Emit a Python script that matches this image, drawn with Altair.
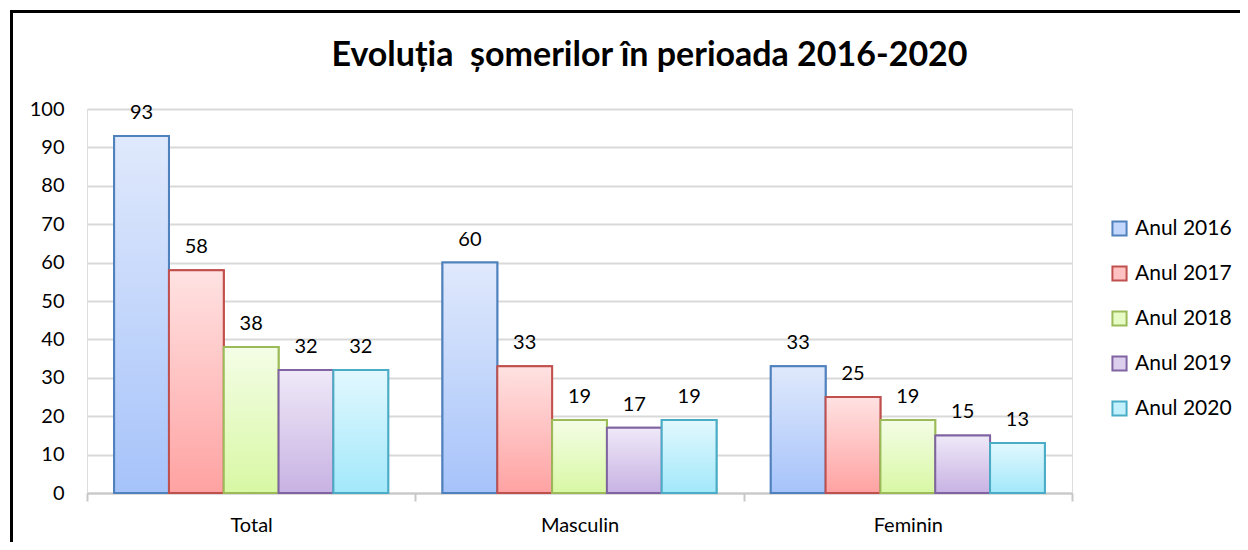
import altair as alt
import pandas as pd

groups = ["Total", "Masculin", "Feminin"]
years = ["Anul 2016", "Anul 2017", "Anul 2018", "Anul 2019", "Anul 2020"]
v2016 = [93, 60, 33]
v2017 = [58, 33, 25]
v2018 = [38, 19, 19]
v2019 = [32, 17, 15]
v2020 = [32, 19, 13]

series = [v2016, v2017, v2018, v2019, v2020]
rows = []
for yr, vals in zip(years, series):
    for g, v in zip(groups, vals):
        rows.append({"group": g, "year": yr, "value": v})
df = pd.DataFrame(rows)

stroke_colors = ["#4F81BD", "#C0504D", "#9BBB59", "#8064A2", "#4BACC6"]
mid_colors = ["#C3D6FB", "#FFC2C2", "#E6FBC5", "#DCCFEE", "#C2F0FC"]
top_colors = ["#E0E9FC", "#FFE2E2", "#F4FDE6", "#EFE9F8", "#E2F8FE"]
bot_colors = ["#A6C3FA", "#FFA2A2", "#D8F8A4", "#C8B2E3", "#A2E8FA"]

FONT = "Lato"


def grad(top, bot):
    return {
        "gradient": "linear", "x1": 0, "y1": 0, "x2": 0, "y2": 1,
        "stops": [{"offset": 0, "color": top}, {"offset": 1, "color": bot}],
    }


x_enc = alt.X(
    "group:N", sort=groups,
    scale=alt.Scale(paddingInner=0, paddingOuter=0),
    axis=alt.Axis(title=None, labelAngle=0, domainColor="#C8C8C8", domainWidth=2,
                  tickColor="#C8C8C8", tickWidth=2, tickSize=8, tickBand="extent",
                  labelFont=FONT, labelFontSize=20, labelColor="#000000",
                  labelPadding=14),
)
xo_enc = alt.XOffset("year:N", sort=years, scale=alt.Scale(paddingInner=0, paddingOuter=0.495))
y_enc = alt.Y(
    "value:Q", scale=alt.Scale(domain=[0, 100], nice=False),
    axis=alt.Axis(title=None, values=list(range(0, 101, 10)), domain=False, ticks=False,
                  gridColor="#D9D9D9", gridWidth=2, labelFont=FONT, labelFontSize=20,
                  labelColor="#000000", labelPadding=23),
)

base = alt.Chart(df)

legend_bars = base.mark_bar(strokeWidth=2).encode(
    x=x_enc, xOffset=xo_enc, y=y_enc,
    fill=alt.Fill("year:N", sort=years, scale=alt.Scale(domain=years, range=mid_colors),
                  legend=alt.Legend(title=None, orient="none", legendX=1022, legendY=109,
                                    symbolType="square", symbolSize=200, symbolStrokeWidth=2,
                                    labelFont=FONT, labelFontSize=21, labelColor="#000000",
                                    rowPadding=22, labelOffset=5)),
    stroke=alt.Stroke("year:N", sort=years, scale=alt.Scale(domain=years, range=stroke_colors)),
)

fill_cond = {
    "condition": [
        {"test": f"datum.year === '{yr}'", "value": grad(t, b)}
        for yr, t, b in zip(years[:-1], top_colors[:-1], bot_colors[:-1])
    ],
    "value": grad(top_colors[-1], bot_colors[-1]),
}

grad_bars = base.mark_bar(strokeWidth=2).encode(
    x=x_enc, xOffset=xo_enc, y=y_enc,
    fill=fill_cond,
    stroke=alt.Stroke("year:N", sort=years, scale=alt.Scale(domain=years, range=stroke_colors)),
)

labels = base.mark_text(font=FONT, fontSize=20, color="#000000", baseline="alphabetic", dy=-17).encode(
    x=x_enc, xOffset=xo_enc, y=y_enc, text=alt.Text("value:Q"),
)

frame_df = pd.DataFrame({"k": [0]})
top_border = alt.Chart(frame_df).mark_rule(color="#000000", strokeWidth=3).encode(
    x=alt.value(-77), x2=alt.value(1170), y=alt.value(-97.5)
)
left_border = alt.Chart(frame_df).mark_rule(color="#000000", strokeWidth=3).encode(
    x=alt.value(-75.5), y=alt.value(-99), y2=alt.value(450)
)

chart = alt.layer(legend_bars, grad_bars, labels, top_border, left_border).properties(
    width=985, height=384,
    autosize="none",
    padding={"left": 79, "top": 101, "right": 168, "bottom": 49},
    title=alt.TitleParams(
        text="Evoluția\u00a0 șomerilor în perioada 2016-2020",
        font=FONT, fontSize=34, fontWeight="bold", color="#000000",
        anchor="middle", frame="group", dx=70, offset=-91, baseline="alphabetic",
    ),
).configure_view(stroke=None).configure(background="#FFFFFF")

chart.save("out.html", embed_options={"renderer": "svg", "actions": False})
